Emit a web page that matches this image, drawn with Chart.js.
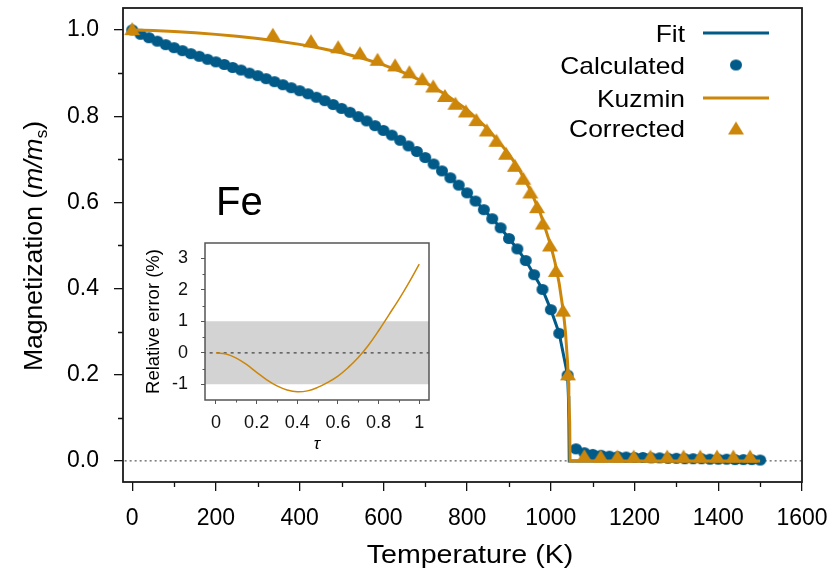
<!DOCTYPE html>
<html><head><meta charset="utf-8">
<script src="https://cdn.jsdelivr.net/npm/chart.js@4/dist/chart.umd.min.js"></script>
<style>
html,body{margin:0;padding:0;background:#fff;}
#wrap{position:relative;width:838px;height:574px;overflow:hidden;}
#main{position:absolute;left:0;top:0;}
#inset{position:absolute;left:130px;top:232px;}
</style></head><body>
<div id="wrap"><canvas id="main" width="838" height="574"></canvas><canvas id="inset" width="320" height="230"></canvas></div>
<script>
// ---------------- data ----------------
const calcTemps = [0,20,40,60,80,100,120,140,160,180,200,220,240,260,280,300,320,340,360,380,400,420,440,460,480,500,520,540,560,580,600,620,640,660,680,700,720,740,760,780,800,820,840,860,880,900,920,940,960,980,1000,1020,1040,1060,1080,1100,1120,1140,1160,1180,1200,1220,1240,1260,1280,1300,1320,1340,1360,1380,1400,1420,1440,1460,1480,1500];
const calcValues = [1.000,0.990,0.982,0.974,0.966,0.959,0.952,0.945,0.939,0.932,0.926,0.920,0.913,0.907,0.900,0.894,0.887,0.880,0.873,0.866,0.859,0.852,0.844,0.836,0.827,0.818,0.809,0.799,0.789,0.778,0.767,0.756,0.744,0.731,0.718,0.704,0.689,0.673,0.657,0.640,0.622,0.603,0.583,0.562,0.541,0.516,0.492,0.465,0.432,0.398,0.351,0.296,0.199,0.028,0.019,0.015,0.013,0.011,0.010,0.009,0.008,0.008,0.007,0.007,0.006,0.006,0.005,0.005,0.005,0.004,0.004,0.004,0.003,0.003,0.003,0.002];

const fitTemps = [0,20,40,60,80,100,120,140,160,180,200,220,240,260,280,300,320,340,360,380,400,420,440,460,480,500,520,540,560,580,600,620,640,660,680,700,720,740,760,780,800,820,840,860,880,900,920,940,960,980,1000,1020,1040,1042,1043,1044,1500];
const fitValues = [1.000,0.990,0.982,0.974,0.966,0.959,0.952,0.945,0.939,0.932,0.926,0.920,0.913,0.907,0.900,0.894,0.887,0.880,0.873,0.866,0.859,0.852,0.844,0.836,0.827,0.818,0.809,0.799,0.789,0.778,0.767,0.756,0.744,0.731,0.718,0.704,0.689,0.673,0.657,0.640,0.622,0.603,0.583,0.562,0.541,0.516,0.492,0.465,0.432,0.398,0.351,0.296,0.199,0.150,0.100,0.000,0.000];

const kuzminTemps = [0,50,100,150,200,250,300,350,400,450,500,550,600,650,700,750,800,850,900,925,950,975,1000,1010,1020,1030,1035,1040,1042,1043,1045,1046,1500];
const kuzminValues = [1.000,0.9988,0.9965,0.9935,0.9898,0.9854,0.9802,0.9739,0.9666,0.9578,0.9472,0.9345,0.9192,0.9006,0.8778,0.8498,0.8149,0.7704,0.7120,0.6750,0.6304,0.5746,0.4997,0.4604,0.4116,0.3454,0.2987,0.2284,0.1817,0.1441,0.09,0.000,0.000];

const corrTemps = [0,336,427,492,544,586,628,662,693,719,747,772,797,822,847,870,893,914,934,951,967,981,998,1012,1029,1041,1080,1119,1159,1198,1238,1278,1317,1357,1397,1436,1476];
const corrValues = [1.003,0.990,0.975,0.961,0.947,0.932,0.919,0.903,0.887,0.870,0.848,0.830,0.812,0.792,0.768,0.744,0.714,0.686,0.656,0.624,0.590,0.552,0.501,0.442,0.350,0.202,0.012,0.011,0.011,0.011,0.011,0.011,0.011,0.011,0.011,0.011,0.011];

const xTickValues = [0,200,400,600,800,1000,1200,1400,1600];
const xMinorTicks = [100,300,500,700,900,1100,1300,1500];
const yTickValues = [0.0,0.2,0.4,0.6,0.8,1.0];
const yMinorTicks = [0.1,0.3,0.5,0.7,0.9];

const insetTau = [0,0.05,0.1,0.15,0.2,0.25,0.3,0.35,0.4,0.45,0.5,0.55,0.6,0.65,0.7,0.75,0.8,0.85,0.9,0.95,1.0];
const insetError = [0,-0.04,-0.17,-0.37,-0.62,-0.86,-1.05,-1.18,-1.24,-1.21,-1.10,-0.94,-0.74,-0.47,-0.15,0.24,0.70,1.20,1.70,2.24,2.82];
const insetXTicks = [0,0.2,0.4,0.6,0.8,1];
const insetXMinor = [0.1,0.3,0.5,0.7,0.9];
const insetYTicks = [-1,0,1,2,3];
const insetYMinor = [-0.5,0.5,1.5,2.5];
const bandLimits = [-1, 1];

const legendLabels = ['Fit','Calculated','Kuzmin','Corrected'];
const xTitle = 'Temperature (K)';

// ---------------- style ----------------
const BLUE = '#015a87', ORANGE = '#cc860a';
const FONT = "'Liberation Sans', Arial, Helvetica, sans-serif";
const pts = (xs, ys) => xs.map((x, i) => ({x: x, y: ys[i]}));

function makeDot(w, h, color) {
  const c = document.createElement('canvas');
  c.width = w + 2; c.height = h + 2;
  const g = c.getContext('2d');
  g.fillStyle = color; g.beginPath();
  g.ellipse(c.width / 2, c.height / 2, w / 2, h / 2, 0, 0, Math.PI * 2); g.fill();
  return c;
}
function makeTri(w, h, color) {
  const c = document.createElement('canvas');
  c.width = w + 2; c.height = h + 2;
  const g = c.getContext('2d');
  g.fillStyle = color; g.beginPath();
  g.moveTo(c.width / 2, 1); g.lineTo(w + 1, h + 1); g.lineTo(1, h + 1); g.closePath(); g.fill();
  return c;
}
const dotImg = makeDot(12, 11, BLUE);
const triImg = makeTri(16, 13, ORANGE);

// ---------------- main chart ----------------
const mainDecor = {
  id: 'mainDecor',
  afterDraw(chart) {
    const {ctx, chartArea: a, scales: {x, y}} = chart;
    ctx.save();
    // minor ticks
    ctx.strokeStyle = '#111'; ctx.lineWidth = 1.3;
    ctx.beginPath();
    xMinorTicks.forEach(v => { const p = Math.round(x.getPixelForValue(v)) + 0.5; ctx.moveTo(p, a.bottom); ctx.lineTo(p, a.bottom + 5); });
    yMinorTicks.forEach(v => { const p = Math.round(y.getPixelForValue(v)) + 0.5; ctx.moveTo(a.left, p); ctx.lineTo(a.left - 5, p); });
    ctx.stroke();
    // frame
    ctx.lineWidth = 1.8; ctx.strokeStyle = '#1a1a1a';
    ctx.strokeRect(a.left, a.top, a.right - a.left, a.bottom - a.top);
    // y title (rotated, mixed styles)
    ctx.save();
    ctx.translate(42, 246);
    ctx.rotate(-Math.PI / 2);
    ctx.fillStyle = '#000';
    ctx.textBaseline = 'alphabetic';
    const parts = [
      {t: 'Magnetization (', f: '26.5px ' + FONT, dy: 0},
      {t: 'm/m', f: 'italic 26.5px ' + FONT, dy: 0},
      {t: 's', f: '17px ' + FONT, dy: 5},
      {t: ')', f: '26.5px ' + FONT, dy: 0}
    ];
    let total = 0;
    parts.forEach(p => { ctx.font = p.f; p.w = ctx.measureText(p.t).width; total += p.w; });
    let cx = -total / 2;
    parts.forEach(p => { ctx.font = p.f; ctx.fillText(p.t, cx, p.dy); cx += p.w; });
    ctx.restore();
    // x title (slightly wide, as in the reference)
    ctx.save();
    ctx.translate(470, 556);
    ctx.scale(1.1, 1);
    ctx.font = '26px ' + FONT;
    ctx.fillStyle = '#000'; ctx.textAlign = 'center'; ctx.textBaseline = 'middle';
    ctx.fillText(xTitle, 0, 0);
    ctx.restore();
    // Fe label
    ctx.fillStyle = '#000';
    ctx.font = '40px ' + FONT;
    ctx.textAlign = 'left'; ctx.textBaseline = 'alphabetic';
    ctx.fillText('Fe', 216, 215);
    // legend
    const rows = [
      {label: legendLabels[0], kind: 'line', color: BLUE, y: 33},
      {label: legendLabels[1], kind: 'dot', color: BLUE, y: 65},
      {label: legendLabels[2], kind: 'line', color: ORANGE, y: 98},
      {label: legendLabels[3], kind: 'tri', color: ORANGE, y: 128}
    ];
    rows.forEach(r => {
      ctx.save();
      ctx.translate(685, r.y + 8.6);
      ctx.scale(1.1, 1);
      ctx.font = '24px ' + FONT;
      ctx.textAlign = 'right';
      ctx.fillStyle = '#000';
      ctx.fillText(r.label, 0, 0);
      ctx.restore();
      ctx.strokeStyle = r.color;
      if (r.kind === 'line') {
        ctx.lineWidth = 3; ctx.beginPath(); ctx.moveTo(703, r.y); ctx.lineTo(769, r.y); ctx.stroke();
      } else if (r.kind === 'dot') {
        ctx.drawImage(dotImg, 736 - dotImg.width / 2, r.y - dotImg.height / 2);
      } else {
        ctx.drawImage(triImg, 736 - triImg.width / 2, r.y - triImg.height / 2);
      }
    });
    ctx.restore();
  }
};

new Chart(document.getElementById('main'), {
  type: 'scatter',
  data: {
    datasets: [
      {label: 'zero', data: [{x: -30, y: 0}, {x: 1650, y: 0}], showLine: true, borderColor: '#333', borderWidth: 1, borderDash: [2, 3], pointRadius: 0, order: 6},
      {label: legendLabels[0], data: pts(fitTemps, fitValues), showLine: true, borderColor: BLUE, borderWidth: 3, pointRadius: 0, order: 4},
      {label: legendLabels[1], data: pts(calcTemps, calcValues), showLine: false, backgroundColor: BLUE, borderWidth: 0, pointRadius: 6, pointStyle: dotImg, order: 3},
      {label: legendLabels[2], data: pts(kuzminTemps, kuzminValues), showLine: true, borderColor: ORANGE, borderWidth: 3, pointRadius: 0, order: 2},
      {label: legendLabels[3], data: pts(corrTemps, corrValues), showLine: false, backgroundColor: ORANGE, borderWidth: 0, pointRadius: 8, pointStyle: triImg, order: 1}
    ]
  },
  options: {
    responsive: false, animation: false, devicePixelRatio: 1,
    layout: {padding: {left: 0, top: 7, right: 36, bottom: 0}},
    plugins: {legend: {display: false}, tooltip: {enabled: false}},
    scales: {
      x: {
        type: 'linear', position: 'bottom', min: -22, max: 1600,
        afterBuildTicks: s => { s.ticks = xTickValues.map(v => ({value: v})); },
        afterFit: s => { s.height = 92; s.paddingLeft = 0; s.paddingRight = 0; },
        ticks: {color: '#000', font: {family: FONT, size: 23}, padding: 14, maxRotation: 0, autoSkip: false, callback: v => String(v)},
        grid: {drawOnChartArea: false, drawTicks: true, tickLength: 9, color: '#111', lineWidth: 1.3},
        border: {display: false},
        title: {display: false}
      },
      y: {
        type: 'linear', position: 'left', min: -0.049, max: 1.051,
        afterBuildTicks: s => { s.ticks = yTickValues.map(v => ({value: v})); },
        afterFit: s => { s.width = 123; s.paddingTop = 0; s.paddingBottom = 0; },
        ticks: {color: '#000', font: {family: FONT, size: 23}, padding: 15, callback: v => Number(v).toFixed(1)},
        grid: {drawOnChartArea: false, drawTicks: true, tickLength: 9, color: '#111', lineWidth: 1.3},
        border: {display: false}
      }
    }
  },
  plugins: [mainDecor]
});

// ---------------- inset chart ----------------
const insetDecor = {
  id: 'insetDecor',
  afterDraw(chart) {
    const {ctx, chartArea: a, scales: {x, y}} = chart;
    ctx.save();
    ctx.strokeStyle = '#555'; ctx.lineWidth = 1;
    ctx.beginPath();
    insetXMinor.forEach(v => { const p = Math.round(x.getPixelForValue(v)) + 0.5; ctx.moveTo(p, a.bottom); ctx.lineTo(p, a.bottom + 2.5); });
    insetYMinor.forEach(v => { const p = Math.round(y.getPixelForValue(v)) + 0.5; ctx.moveTo(a.left, p); ctx.lineTo(a.left - 2.5, p); });
    ctx.stroke();
    ctx.lineWidth = 1.5; ctx.strokeStyle = '#555';
    ctx.strokeRect(a.left, a.top, a.right - a.left, a.bottom - a.top);
    ctx.restore();
  }
};

new Chart(document.getElementById('inset'), {
  type: 'scatter',
  data: {
    datasets: [
      {label: 'err', data: pts(insetTau, insetError), showLine: true, borderColor: ORANGE, borderWidth: 1.5, pointRadius: 0, tension: 0.4, order: 1},
      {label: 'zero', data: [{x: -0.1, y: 0}, {x: 1.1, y: 0}], showLine: true, borderColor: '#444', borderWidth: 1.2, borderDash: [3, 4], pointRadius: 0, order: 2},
      {label: 'bandTop', data: [{x: -0.1, y: bandLimits[1]}, {x: 1.1, y: bandLimits[1]}], showLine: true, borderWidth: 0, borderColor: 'rgba(0,0,0,0)', backgroundColor: '#d3d3d3', fill: '+1', pointRadius: 0, order: 3},
      {label: 'bandBottom', data: [{x: -0.1, y: bandLimits[0]}, {x: 1.1, y: bandLimits[0]}], showLine: true, borderWidth: 0, borderColor: 'rgba(0,0,0,0)', pointRadius: 0, order: 4}
    ]
  },
  options: {
    responsive: false, animation: false, devicePixelRatio: 1,
    layout: {padding: {left: 0, top: 11, right: 21, bottom: 0}},
    plugins: {legend: {display: false}, tooltip: {enabled: false}, filler: {propagate: false}},
    scales: {
      x: {
        type: 'linear', position: 'bottom', min: -0.054, max: 1.048,
        afterBuildTicks: s => { s.ticks = insetXTicks.map(v => ({value: v})); },
        afterFit: s => { s.height = 62; s.paddingLeft = 0; s.paddingRight = 0; },
        ticks: {color: '#111', font: {family: FONT, size: 18}, padding: 8, maxRotation: 0, autoSkip: false, callback: v => String(v)},
        grid: {drawOnChartArea: false, drawTicks: true, tickLength: 4, color: '#555', lineWidth: 1},
        border: {display: false},
        title: {display: true, text: 'τ', color: '#000', font: {family: FONT, size: 17, style: 'italic'}, padding: {top: 0, bottom: 8}}
      },
      y: {
        type: 'linear', position: 'left', min: -1.5, max: 3.49,
        afterBuildTicks: s => { s.ticks = insetYTicks.map(v => ({value: v})); },
        afterFit: s => { s.width = 75; s.paddingTop = 0; s.paddingBottom = 0; },
        ticks: {color: '#111', font: {family: FONT, size: 18}, padding: 13, callback: v => String(v)},
        grid: {drawOnChartArea: false, drawTicks: true, tickLength: 4, color: '#555', lineWidth: 1},
        border: {display: false},
        title: {display: true, text: 'Relative error (%)', color: '#000', font: {family: FONT, size: 18.5}, padding: {top: 13, bottom: 0}}
      }
    }
  },
  plugins: [insetDecor]
});
</script>
</body></html>
